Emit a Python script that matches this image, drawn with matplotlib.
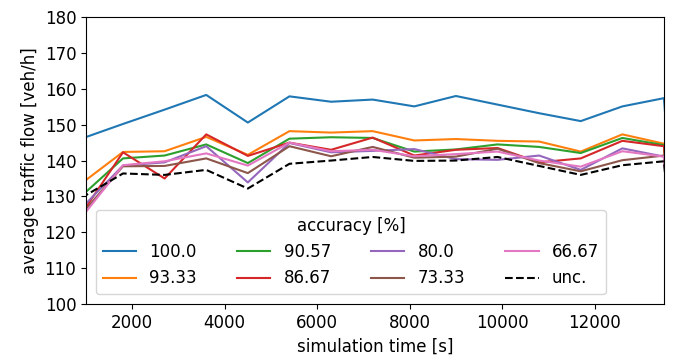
import matplotlib
matplotlib.use("Agg")
import matplotlib.pyplot as plt

time_s = [900, 1800, 2700, 3600, 4500, 5400, 6300, 7200, 8100, 9000, 9900,
          10800, 11700, 12600, 13500, 14400]

acc_100_0 = [146.1, 150.2, 154.2, 158.3, 150.6, 157.9, 156.4, 157.0, 155.1, 158.0,
             155.6, 153.2, 151.0, 155.1, 157.4, 0]
acc_93_33 = [133.6, 142.4, 142.6, 146.6, 141.6, 148.2, 147.8, 148.2, 145.6, 146.0,
             145.5, 145.3, 142.5, 147.3, 144.7, 0]
acc_90_57 = [130.1, 140.6, 141.4, 144.5, 139.3, 146.1, 146.5, 146.3, 142.5, 143.1,
             144.5, 143.8, 142.1, 146.3, 144.3, 0]
acc_86_67 = [125.1, 142.3, 135.0, 147.3, 141.3, 145.0, 143.0, 146.4, 141.4, 143.0,
             143.5, 139.5, 140.6, 145.5, 144.0, 0]
acc_80_0 = [126.7, 138.6, 139.5, 144.0, 133.9, 144.9, 142.3, 142.7, 143.2, 140.4,
            140.2, 141.4, 137.4, 143.4, 141.1, 0]
acc_73_33 = [125.0, 138.4, 138.5, 140.6, 136.5, 144.0, 141.2, 143.8, 140.8, 141.1,
             143.3, 139.3, 137.0, 140.1, 141.4, 0]
acc_66_67 = [124.1, 138.7, 139.8, 142.0, 138.6, 145.0, 142.6, 143.0, 141.2, 141.8,
             142.5, 140.0, 138.3, 142.6, 141.1, 0]
unconstrained = [129.6, 136.4, 136.0, 137.4, 132.2, 139.1, 140.0, 141.0, 139.9, 140.0,
                 141.0, 138.5, 136.0, 138.7, 139.8, 0]

series_labels = ["100.0", "93.33", "90.57", "86.67", "80.0", "73.33", "66.67"]
series_values = [acc_100_0, acc_93_33, acc_90_57, acc_86_67, acc_80_0, acc_73_33, acc_66_67]
series_colors = ["#1f77b4", "#ff7f0e", "#2ca02c", "#d62728", "#9467bd", "#8c564b", "#e377c2"]

plt.rcParams["font.size"] = 12

fig = plt.figure(figsize=(6.81, 3.56), dpi=100)
ax = fig.add_axes([0.1263, 0.146, 0.8487, 0.806])

for lab, vals, col in zip(series_labels, series_values, series_colors):
    ax.plot(time_s, vals, color=col, label=lab, linewidth=1.5)
ax.plot(time_s, unconstrained, color="black", linestyle="--", label="unc.", linewidth=1.5)

ax.set_xlim(1000, 13500)
ax.set_ylim(100, 180)
ax.set_xticks([2000, 4000, 6000, 8000, 10000, 12000])
ax.set_yticks(range(100, 181, 10))
ax.set_xlabel("simulation time [s]")
ax.set_ylabel("average traffic flow [veh/h]")
ax.legend(title="accuracy [%]", ncol=4, loc="lower left", fontsize=12, title_fontsize=12,
          columnspacing=2.4, borderaxespad=0.6)

fig.savefig("out.png", dpi=100)
